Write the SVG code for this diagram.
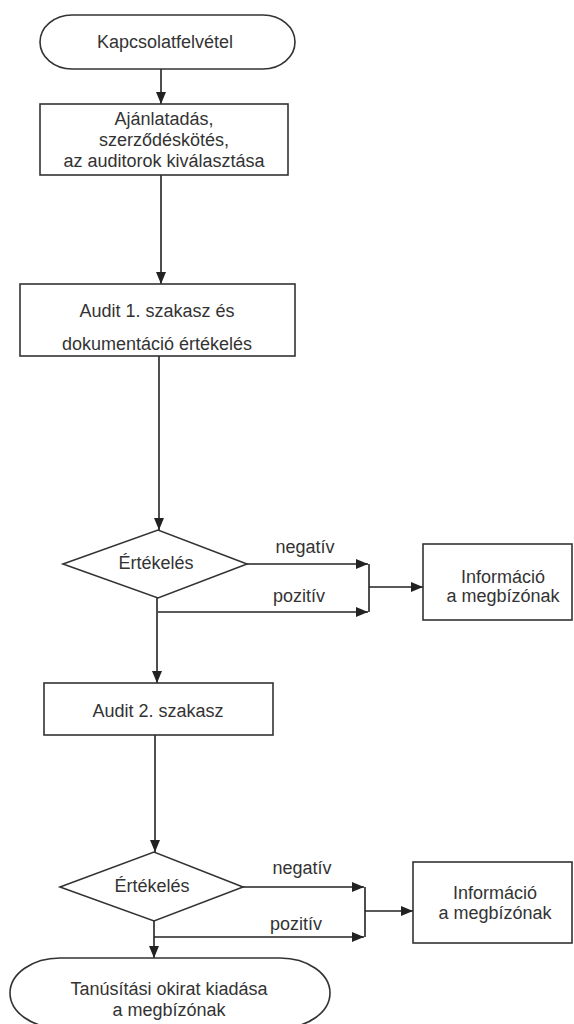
<svg xmlns="http://www.w3.org/2000/svg" width="574" height="1024" viewBox="0 0 574 1024">
<defs>
<style>
.s{fill:#fff;stroke:#333;stroke-width:1.6}
.c{fill:none;stroke:#222;stroke-width:1.6}
.t{font-family:"Liberation Sans",Arial,sans-serif;font-size:18px;fill:#333;text-anchor:middle}
</style>
<marker id="ah" markerUnits="userSpaceOnUse" markerWidth="12" markerHeight="10" viewBox="0 0 12 10" refX="12" refY="5" orient="auto">
<path d="M0,0 L12,5 L0,10 Z" fill="#222"/>
</marker>
</defs>
<rect width="574" height="1024" fill="#fff"/>
<g id="connectors">
<line class="c" x1="161" y1="69" x2="161" y2="104" marker-end="url(#ah)"/>
<line class="c" x1="161" y1="175" x2="161" y2="284" marker-end="url(#ah)"/>
<line class="c" x1="159" y1="356" x2="159" y2="530" marker-end="url(#ah)"/>
<line class="c" x1="247" y1="564" x2="368" y2="564" marker-end="url(#ah)"/>
<line class="c" x1="158" y1="612" x2="368" y2="612" marker-end="url(#ah)"/>
<line class="c" x1="369" y1="564" x2="369" y2="612"/>
<line class="c" x1="369" y1="587" x2="423" y2="587" marker-end="url(#ah)"/>
<line class="c" x1="157" y1="598" x2="157" y2="683" marker-end="url(#ah)"/>
<line class="c" x1="155" y1="735" x2="155" y2="852" marker-end="url(#ah)"/>
<line class="c" x1="243" y1="887" x2="364" y2="887" marker-end="url(#ah)"/>
<line class="c" x1="154" y1="937" x2="364" y2="937" marker-end="url(#ah)"/>
<line class="c" x1="365" y1="887" x2="365" y2="937"/>
<line class="c" x1="365" y1="911" x2="413" y2="911" marker-end="url(#ah)"/>
<line class="c" x1="154" y1="921" x2="154" y2="958" marker-end="url(#ah)"/>
<text class="t" x="305" y="553">negatív</text>
<text class="t" x="299" y="602">pozitív</text>
<text class="t" x="302" y="874">negatív</text>
<text class="t" x="296" y="930">pozitív</text>
</g>
<g id="start">
<rect class="s" x="40" y="15" width="255" height="54" rx="32" ry="27"/>
<text class="t" x="165" y="48">Kapcsolatfelvétel</text>
</g>
<g id="offer">
<rect class="s" x="40" y="104" width="248" height="71"/>
<text class="t" x="164" y="125">Ajánlatadás,</text>
<text class="t" x="164" y="146">szerződéskötés,</text>
<text class="t" x="164" y="167">az auditorok kiválasztása</text>
</g>
<g id="audit1">
<rect class="s" x="20" y="284" width="275" height="72"/>
<text class="t" x="157" y="317">Audit 1. szakasz és</text>
<text class="t" x="157" y="350">dokumentáció értékelés</text>
</g>
<g id="eval1">
<polygon class="s" points="63,564 158,530 247,564 158,598"/>
<text class="t" x="156" y="569">Értékelés</text>
</g>
<g id="info1">
<rect class="s" x="423" y="544" width="149" height="76"/>
<text class="t" x="503" y="583">Információ</text>
<text class="t" x="503" y="602">a megbízónak</text>
</g>
<g id="audit2">
<rect class="s" x="44" y="683" width="229" height="52"/>
<text class="t" x="158" y="717">Audit 2. szakasz</text>
</g>
<g id="eval2">
<polygon class="s" points="60,887 154,852 243,887 154,921"/>
<text class="t" x="152" y="892">Értékelés</text>
</g>
<g id="info2">
<rect class="s" x="413" y="862" width="159" height="81"/>
<text class="t" x="495" y="899">Információ</text>
<text class="t" x="495" y="919">a megbízónak</text>
</g>
<g id="end">
<rect class="s" x="10" y="958" width="320" height="70" rx="50" ry="35"/>
<text class="t" x="169" y="995">Tanúsítási okirat kiadása</text>
<text class="t" x="169" y="1016">a megbízónak</text>
</g>
</svg>
